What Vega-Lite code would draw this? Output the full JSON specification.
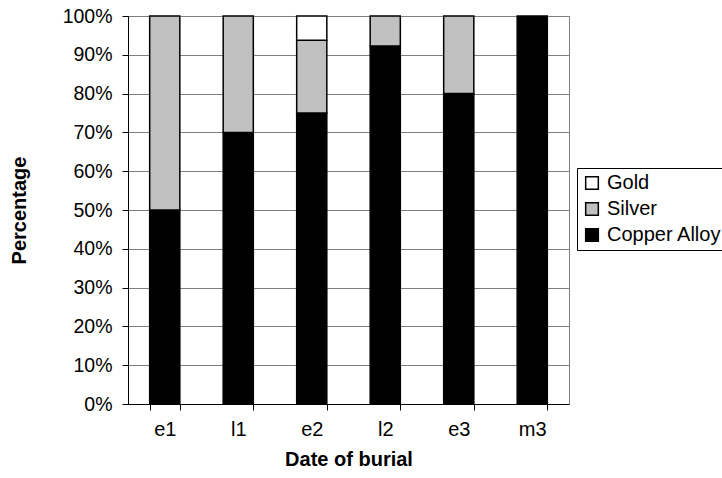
{
  "$schema": "https://vega.github.io/schema/vega-lite/v6.json",
  "width": 441,
  "height": 388,
  "autosize": {"type": "none"},
  "padding": {"left": 128, "top": 16, "right": 153, "bottom": 74},
  "background": "white",
  "config": {
    "font": "Liberation Sans",
    "view": {"stroke": "#7f7f7f", "strokeWidth": 1}
  },
  "data": {
    "values": [
      {"date": "e1", "metal": "Copper Alloy", "pct": 0.50, "ord": 1},
      {"date": "e1", "metal": "Silver", "pct": 0.50, "ord": 2},
      {"date": "l1", "metal": "Copper Alloy", "pct": 0.70, "ord": 1},
      {"date": "l1", "metal": "Silver", "pct": 0.30, "ord": 2},
      {"date": "e2", "metal": "Copper Alloy", "pct": 0.75, "ord": 1},
      {"date": "e2", "metal": "Silver", "pct": 0.1875, "ord": 2},
      {"date": "e2", "metal": "Gold", "pct": 0.0625, "ord": 3},
      {"date": "l2", "metal": "Copper Alloy", "pct": 0.923, "ord": 1},
      {"date": "l2", "metal": "Silver", "pct": 0.077, "ord": 2},
      {"date": "e3", "metal": "Copper Alloy", "pct": 0.80, "ord": 1},
      {"date": "e3", "metal": "Silver", "pct": 0.20, "ord": 2},
      {"date": "m3", "metal": "Copper Alloy", "pct": 1.0, "ord": 1}
    ]
  },
  "mark": {"type": "bar", "stroke": "black", "strokeWidth": 1.5},
  "encoding": {
    "x": {
      "field": "date",
      "type": "nominal",
      "sort": ["e1", "l1", "e2", "l2", "e3", "m3"],
      "scale": {"paddingInner": 0.59, "paddingOuter": 0.295},
      "axis": {
        "title": "Date of burial",
        "titleFont": "Liberation Sans",
        "titleFontSize": 20,
        "titleFontWeight": "bold",
        "titleColor": "black",
        "titlePadding": 10,
        "labelAngle": 0,
        "labelFontSize": 20,
        "labelColor": "black",
        "labelPadding": 9,
        "domainColor": "black",
        "tickColor": "black",
        "tickBand": "extent",
        "tickSize": 6
      }
    },
    "y": {
      "field": "pct",
      "type": "quantitative",
      "stack": "zero",
      "scale": {"domain": [0, 1], "nice": false},
      "axis": {
        "title": "Percentage",
        "titleFont": "Liberation Sans",
        "titleFontSize": 20,
        "titleFontWeight": "bold",
        "titleColor": "black",
        "titlePadding": 33,
        "format": ".0%",
        "values": [0, 0.1, 0.2, 0.3, 0.4, 0.5, 0.6, 0.7, 0.8, 0.9, 1.0],
        "labelFontSize": 19.5,
        "labelColor": "black",
        "labelPadding": 10,
        "domainColor": "black",
        "tickColor": "black",
        "tickSize": 6,
        "grid": true,
        "gridColor": "#7f7f7f",
        "gridWidth": 1
      }
    },
    "color": {
      "field": "metal",
      "type": "nominal",
      "scale": {
        "domain": ["Gold", "Silver", "Copper Alloy"],
        "range": ["white", "#c0c0c0", "black"]
      },
      "legend": {
        "title": null,
        "orient": "none",
        "legendX": 449,
        "legendY": 152,
        "symbolType": "square",
        "symbolSize": 160,
        "symbolStrokeColor": "black",
        "symbolStrokeWidth": 1.5,
        "labelFontSize": 20,
        "labelColor": "black",
        "labelOffset": 5,
        "rowPadding": 6,
        "strokeColor": "black",
        "padding": 5,
        "offset": 0
      }
    },
    "order": {"field": "ord", "type": "quantitative"}
  }
}
